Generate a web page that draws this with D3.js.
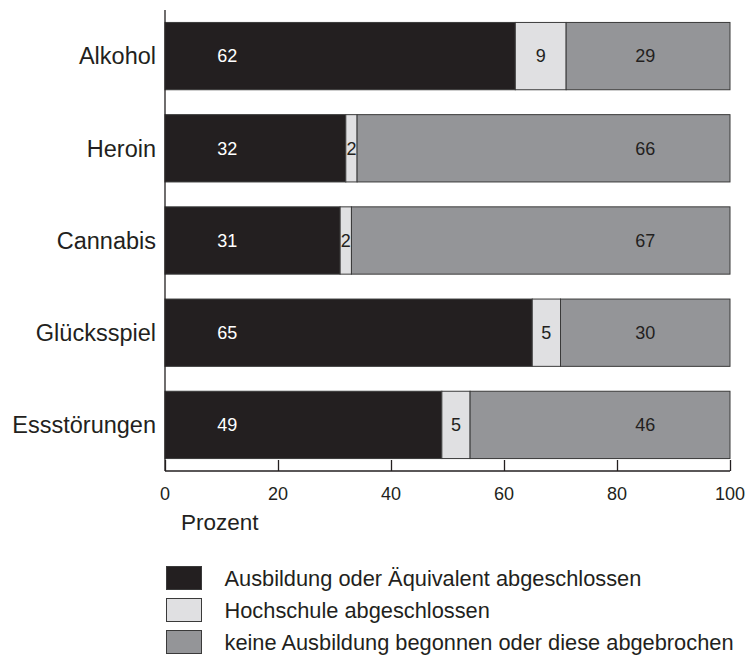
<!DOCTYPE html>
<html><head><meta charset="utf-8">
<script src="https://cdn.jsdelivr.net/npm/d3@7/dist/d3.min.js"></script>
<style>body{margin:0;background:#fff;}text{font-family:"Liberation Sans",Arial,sans-serif;}</style>
</head><body><svg id="c" width="747" height="657"></svg>
<script>
const categories = ["Alkohol","Heroin","Cannabis","Glücksspiel","Essstörungen"];
const ausbildung = [62,32,31,65,49];
const hochschule = [9,2,2,5,5];
const keine = [29,66,67,30,46];
const seriesNames = ["Ausbildung oder Äquivalent abgeschlossen","Hochschule abgeschlossen","keine Ausbildung begonnen oder diese abgebrochen"];
const xTicks = [0,20,40,60,80,100];
const colors = ["#231f20","#e0e0e2","#949598"];
const labelColors = ["#ffffff","#231f20","#231f20"];

const svg = d3.select("#c");
const x = d3.scaleLinear().domain([0,100]).range([165,730]);
const y = d3.scaleBand().domain(categories).range([10,471]).paddingInner(0.27).paddingOuter(0.135);

const rows = categories.map((c,i)=>({cat:c, vals:[ausbildung[i],hochschule[i],keine[i]]}));
const segs = [];
rows.forEach(r=>{let s=0; r.vals.forEach((v,k)=>{segs.push({cat:r.cat,k,x0:s,x1:s+v,v}); s+=v;});});

svg.append("g").selectAll("rect").data(segs).join("rect")
  .attr("x",d=>x(d.x0)).attr("width",d=>x(d.x1)-x(d.x0))
  .attr("y",d=>y(d.cat)).attr("height",y.bandwidth())
  .attr("fill",d=>colors[d.k]).attr("stroke","#3a3a3a").attr("stroke-width",1);

svg.append("g").selectAll("text").data(segs).join("text")
  .attr("x",d=> d.k===0 ? x(11) : d.k===2 ? x(85) : x((d.x0+d.x1)/2))
  .attr("y",d=>y(d.cat)+y.bandwidth()/2).attr("dy","0.35em")
  .attr("text-anchor","middle").attr("font-size",18)
  .attr("fill",d=>labelColors[d.k]).text(d=>d.v);

// y axis
svg.append("line").attr("x1",165).attr("x2",165).attr("y1",10).attr("y2",471).attr("stroke","#231f20").attr("stroke-width",1.3);
svg.append("g").selectAll("text").data(categories).join("text")
  .attr("x",156).attr("y",d=>y(d)+y.bandwidth()/2).attr("dy","0.35em")
  .attr("text-anchor","end").attr("font-size",23.5).attr("fill","#231f20").text(d=>d);

// x axis
const xAxis = d3.axisTop(x).tickValues(xTicks).tickSize(11).tickFormat("");
const gx = svg.append("g").attr("transform","translate(0,471)").call(xAxis);
gx.select(".domain").attr("stroke","#231f20").attr("stroke-width",1.3).attr("d",`M${x(0)},0H${x(100)}`);
gx.selectAll(".tick line").attr("stroke","#231f20").attr("stroke-width",1.3);
svg.append("g").selectAll("text").data(xTicks).join("text")
  .attr("x",d=>x(d)).attr("y",494).attr("dy","0.35em").attr("text-anchor","middle")
  .attr("font-size",18).attr("fill","#231f20").text(d=>d);
svg.append("text").attr("x",181).attr("y",522).attr("dy","0.35em").attr("font-size",22.5).attr("fill","#231f20").text("Prozent");

// legend
const lg = svg.append("g").selectAll("g").data(seriesNames).join("g")
  .attr("transform",(d,i)=>`translate(166.5,${566.5+i*32})`);
lg.append("rect").attr("width",35).attr("height",23).attr("fill",(d,i)=>colors[i]).attr("stroke","#3a3a3a");
lg.append("text").attr("x",58).attr("y",11.5).attr("dy","0.35em").attr("font-size",21.8).attr("fill","#231f20").text(d=>d);
</script></body></html>
